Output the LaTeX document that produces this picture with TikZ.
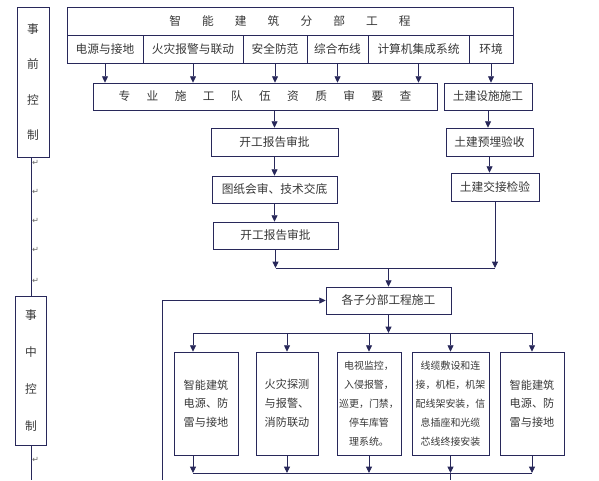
\documentclass[tikz,border=0pt]{standalone}
\usepackage{fontspec}
\setmainfont{Noto Sans CJK SC}
\newfontfamily\symfont{DejaVu Sans}
\usetikzlibrary{arrows.meta,positioning,calc}
\definecolor{lineclr}{RGB}{40,40,90}
\definecolor{txtclr}{RGB}{55,55,55}
\tikzset{
  box/.style={draw=lineclr, line width=0.7pt, inner sep=1pt, text=txtclr,
    font=\fontsize{10}{12}\selectfont, align=center},
  sz/.style 2 args={minimum width=#1*0.3mm, minimum height=#2*0.3mm},
  ln/.style={draw=lineclr, line width=0.7pt},
  arr/.style={ln, -{Triangle[length=1.9mm,width=1.8mm]}},
  retmk/.style={text=gray!80!black, font=\symfont\fontsize{7}{7}\selectfont, inner sep=0pt}
}
\newcommand\tgap{\hspace{1.8em}}
\newcommand\sgap{\hspace{1.4em}}

\begin{document}
\begin{tikzpicture}[x=0.3mm, y=-0.3mm]
\useasboundingbox (0,0) rectangle (599,480);
% left column
\node[box, sz={32}{150}, font=\fontsize{10}{30}\selectfont] (pre) at (33,82) {事\\前\\控\\制};
\node[box, sz={31}{149}, font=\fontsize{10}{31.5}\selectfont] (mid) at (31,370.5) {事\\中\\控\\制};
\coordinate (lbot) at (31,480);
\draw[ln] (pre.south -| mid.north) -- (mid.north);
\draw[ln] (mid.south) -- (lbot);
\foreach \y [count=\i] in {163,192,221,250,281,460}
  \node[retmk] (rm\i) at (35.5,\y) {↵};

% top block
\node[box, sz={446}{28}] (top) at (290,21) {智\tgap{}能\tgap{}建\tgap{}筑\tgap{}分\tgap{}部\tgap{}工\tgap{}程};
\foreach \n/\cx/\w/\t in {c1/105/76/电源与接地, c2/193/100/火灾报警与联动, c3/275/64/安全防范,
    c4/337.5/61/综合布线, c5/418.5/101/计算机集成系统, c6/491/44/环境}
  \node[box, sz={\w}{28}] (\n) at (\cx,49) {\t};

\node[box, sz={344}{27}] (team) at (265,96.5)
  {专\sgap{}业\sgap{}施\sgap{}工\sgap{}队\sgap{}伍\sgap{}资\sgap{}质\sgap{}审\sgap{}要\sgap{}查};
\node[box, sz={88}{27}] (civ1) at (488,96.5) {土建设施施工};
\foreach \n in {c1,c2,c3,c4,c5}
  \draw[arr] (\n.south) -- (\n.south |- team.north);
\draw[arr] (c6.south) -- (c6.south |- civ1.north);

% middle chain
\node[box, sz={127}{28}] (start1) at (274.5,142) {开工报告审批};
\node[box, sz={125}{27}] (draw) at (274.5,189.5) {图纸会审、技术交底};
\node[box, sz={125}{27}] (start2) at (275.5,235.5) {开工报告审批};
\node[box, sz={87}{28}] (civ2) at (489.5,142) {土建预埋验收};
\node[box, sz={88}{28}] (civ3) at (495,187) {土建交接检验};
\draw[arr] (team.south -| start1.north) -- (start1.north);
\draw[arr] (start1.south) -- (start1.south |- draw.north);
\draw[arr] (draw.south) -- (draw.south |- start2.north);
\draw[arr] (civ1.south) -- (civ1.south |- civ2.north);
\draw[arr] (civ2.south) -- (civ2.south |- civ3.north);

% merge
\node[box, sz={125}{27}] (sub) at (388.5,300.5) {各子分部工程施工};
\coordinate (jn) at (388.5,268);
\draw[arr] (start2.south) -- (start2.south |- jn);
\draw[arr] (civ3.south) -- (civ3.south |- jn);
\draw[ln] (start2.south |- jn) -- (civ3.south |- jn);
\draw[arr] (jn) -- (sub.north);
\coordinate (lp) at (162,480);
\draw[arr] (lp) |- (sub.west);

% sub-systems
\node[box, sz={64}{103}, font=\fontsize{9.5}{16}\selectfont] (b1) at (206,403.5) {智能建筑\\电源、防\\雷与接地};
\node[box, sz={62}{103}, font=\fontsize{9.5}{16}\selectfont] (b2) at (287,403.5) {火灾探测\\与报警、\\消防联动};
\node[box, sz={64}{103}, font=\fontsize{8.5}{16.2}\selectfont] (b3) at (369,403.5) {电视监控，\\入侵报警，\\巡更，门禁，\\停车库管\\理系统。};
\node[box, sz={77}{103}, font=\fontsize{8.5}{16.2}\selectfont] (b4) at (450.5,403.5) {线缆敷设和连\\接，机柜，机架\\配线架安装，信\\息插座和光缆\\芯线终接安装};
\node[box, sz={64}{103}, font=\fontsize{9.5}{16}\selectfont] (b5) at (532,403.5) {智能建筑\\电源、防\\雷与接地};
\coordinate (sp) at (388.5,333);
\coordinate (mg) at (388.5,473);
\draw[arr] (sub.south) -- (sp);
\draw[ln] ([xshift=-3.9mm]b1.north |- sp) -- (b5.north |- sp);
\draw[arr] ([xshift=-3.9mm]b1.north |- sp) -- ([xshift=-3.9mm]b1.north);
\foreach \n in {b2,b3,b4,b5}
  \draw[arr] (\n.north |- sp) -- (\n.north);
\draw[arr] ([xshift=-3.9mm]b1.south) -- ([xshift=-3.9mm]b1.south |- mg);
\foreach \n in {b2,b3,b4,b5}
  \draw[arr] (\n.south) -- (\n.south |- mg);
\draw[ln] ([xshift=-3.9mm]b1.south |- mg) -- (b5.south |- mg);
\draw[ln] (b4.south |- mg) -- (b4.south |- lp);
\end{tikzpicture}
\end{document}
